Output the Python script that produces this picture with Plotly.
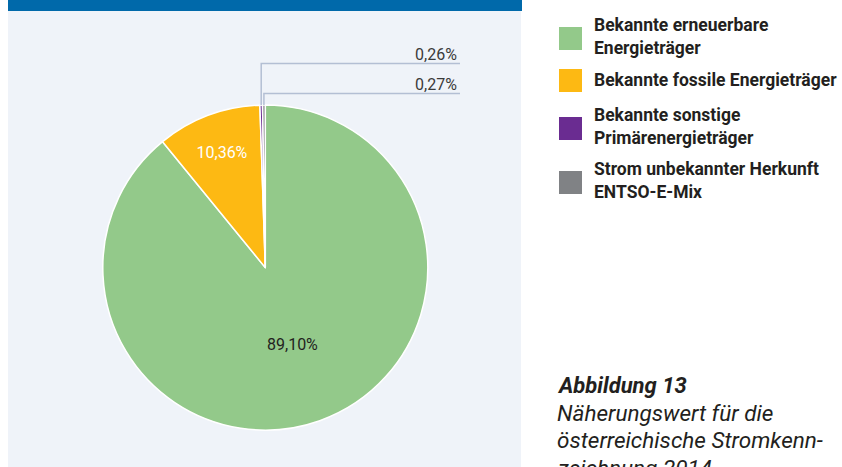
import math
import plotly.graph_objects as go

# ---- data ----
categories = [
    "Bekannte erneuerbare<br>Energieträger",
    "Bekannte fossile Energieträger",
    "Bekannte sonstige<br>Primärenergieträger",
    "Strom unbekannter Herkunft<br>ENTSO-E-Mix",
]
values = [89.10, 10.36, 0.26, 0.27]
colors = ["#93C98A", "#FDB913", "#6A2C91", "#808285"]
caption_title = "Abbildung 13"
caption_lines = ["Näherungswert für die", "österreichische Stromkenn-", "zeichnung 2014"]

W, H = 842, 467
FONT = "Roboto"
TXT = "#231F20"

def fmt(v):
    return f"{v:.2f}".replace(".", ",") + "%"

# pie geometry (pixels)
cx, cy, r = 265.3, 267.6, 162.5

def px(x):
    return x / W

def py(y):
    return 1 - y / H

labels_text = [fmt(v) if v > 1 else "" for v in values]
text_colors = [TXT, "white", TXT, TXT]

fig = go.Figure()
fig.add_trace(go.Pie(
    labels=[c.replace("<br>", " ") for c in categories],
    values=values,
    sort=False,
    direction="clockwise",
    rotation=0,
    marker=dict(colors=colors, line=dict(color="white", width=1.5)),
    text=labels_text,
    textinfo="text",
    textposition="inside",
    insidetextorientation="horizontal",
    insidetextfont=dict(family=FONT, size=16, color=text_colors),
    hoverinfo="label+percent",
    showlegend=False,
    domain=dict(x=[px(cx - r), px(cx + r)], y=[py(cy + r), py(cy - r)]),
))

shapes = []
annotations = []

# background blue bar and panel
shapes.append(dict(type="rect", xref="paper", yref="paper", x0=px(8), x1=px(521),
                   y0=py(467), y1=py(11), fillcolor="#EFF3F9", line=dict(width=0), layer="below"))
shapes.append(dict(type="rect", xref="paper", yref="paper", x0=px(8), x1=px(522),
                   y0=py(11), y1=py(0), fillcolor="#0069AA", line=dict(width=0), layer="below"))

# leader lines for small slices (computed from data angles)
total = sum(values)
cum = 0.0
leader_y = {2: 63.5, 3: 93.5}
line_end_x = 460
for i, v in enumerate(values):
    mid = (cum + v / 2) / total * 2 * math.pi
    cum += v
    if i in leader_y:
        lx = cx + r * math.sin(mid)
        ytop = cy - r * math.cos(mid)
        ly = leader_y[i]
        shapes.append(dict(type="path", xref="paper", yref="paper",
                           path=f"M {px(lx)},{py(ytop)} L {px(lx)},{py(ly)} L {px(line_end_x)},{py(ly)}",
                           line=dict(color="#B3BFD4", width=1.5)))
        annotations.append(dict(text=fmt(v), xref="paper", yref="paper", x=px(line_end_x - 1),
                                y=py(ly - 9), xanchor="right", yanchor="middle", showarrow=False,
                                font=dict(family=FONT, size=16, color="#3A3A3A")))

# custom legend
sw = 23
leg_x = 559
leg_centers = [38.5, 80.5, 128.5, 182.5]
for cat, col, yc in zip(categories, colors, leg_centers):
    shapes.append(dict(type="rect", xref="paper", yref="paper", x0=px(leg_x), x1=px(leg_x + sw),
                       y0=py(yc + sw / 2), y1=py(yc - sw / 2), fillcolor=col, line=dict(width=0)))
    off = -2.5 if "<br>" in cat else 0
    annotations.append(dict(text=f"<b>{cat}</b>", xref="paper", yref="paper", x=px(592), y=py(yc + off),
                            xanchor="left", yanchor="middle", align="left", showarrow=False,
                            font=dict(family=FONT, size=17.5, color=TXT)))

# caption
annotations.append(dict(text=f"<b><i>{caption_title}</i></b>", xref="paper", yref="paper",
                        x=px(555), y=py(385), xanchor="left", yanchor="middle", showarrow=False,
                        font=dict(family=FONT, size=22, color=TXT)))
for k, line in enumerate(caption_lines):
    annotations.append(dict(text=f"<i>{line}</i>", xref="paper", yref="paper",
                            x=px(555), y=py(412.5 + 27.5 * k), xanchor="left", yanchor="middle",
                            showarrow=False, font=dict(family=FONT, size=22.5, color=TXT)))

fig.update_layout(
    width=W, height=H,
    margin=dict(l=0, r=0, t=0, b=0),
    paper_bgcolor="white",
    plot_bgcolor="white",
    shapes=shapes,
    annotations=annotations,
    font=dict(family=FONT),
)

fig.write_html("out.html", config={"displayModeBar": False},
               post_script="document.body.style.margin='0';document.body.style.overflow='hidden';")
